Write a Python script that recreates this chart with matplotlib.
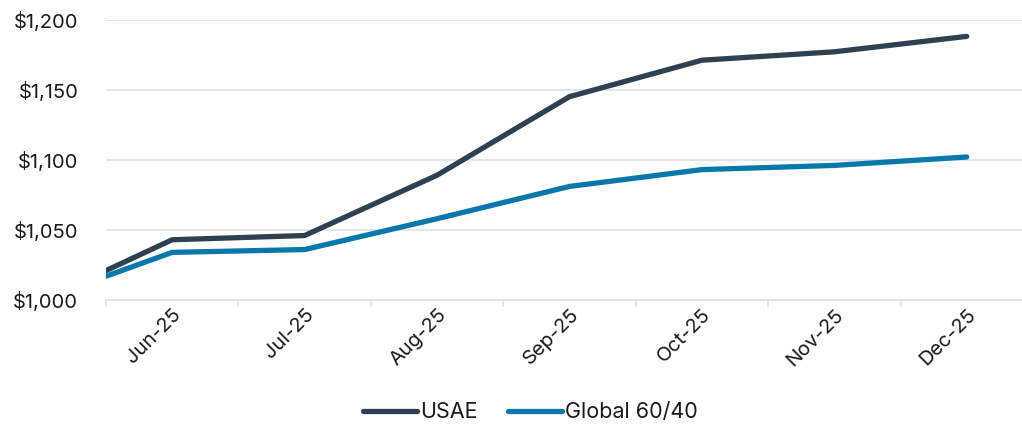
import matplotlib.pyplot as plt
from matplotlib.ticker import FuncFormatter, FixedLocator

# Данные графика
months = ['Jun-25', 'Jul-25', 'Aug-25', 'Sep-25', 'Oct-25', 'Nov-25', 'Dec-25']
usae = [1021, 1043, 1046, 1089, 1145, 1171, 1177, 1188]
global_6040 = [1017, 1034, 1036, 1058, 1081, 1093, 1096, 1102]
# первая точка - стартовое значение на левой границе оси
x_pos = [-0.5] + list(range(len(months)))

plt.rcParams['font.family'] = ['Inter', 'DejaVu Sans']

fig = plt.figure(figsize=(10.22, 4.25), dpi=100)
ax = fig.add_axes([0.1037, 0.294, 0.907, 0.66])

grid_color = '#dfe3ea'
ax.plot(x_pos, usae, color='#2f4151', lw=3.8, solid_joinstyle='round',
        solid_capstyle='round', label='USAE')
ax.plot(x_pos, global_6040, color='#0878aa', lw=3.8, solid_joinstyle='round',
        solid_capstyle='round', label='Global 60/40')

ax.set_xlim(-0.5, 6.5)
ax.set_ylim(1000, 1200)
ax.set_yticks([1000, 1050, 1100, 1150, 1200])
ax.yaxis.set_major_formatter(FuncFormatter(lambda v, p: f'${v:,.0f}'))
ax.grid(axis='y', color=grid_color, lw=1.3)
ax.set_axisbelow(True)

ax.set_xticks(range(len(months)))
ax.set_xticklabels(months, rotation=45, ha='right', rotation_mode='anchor')
ax.xaxis.set_minor_locator(FixedLocator([i - 0.5 for i in range(len(months) + 1)]))
ax.tick_params(axis='x', which='major', length=0, pad=4, labelsize=14.5,
               labelcolor='#1a1a1a')
ax.tick_params(axis='x', which='minor', length=5, color=grid_color, width=1.3)
ax.tick_params(axis='y', length=0, pad=20, labelsize=14.5, labelcolor='#1a1a1a')

for s in ['top', 'right', 'left']:
    ax.spines[s].set_visible(False)
ax.spines['bottom'].set_color(grid_color)
ax.spines['bottom'].set_linewidth(1.3)

fig.legend(loc='center', bbox_to_anchor=(0.519, 0.03), ncol=2, frameon=False,
           fontsize=15.5, handlelength=2.5, handletextpad=0.15, columnspacing=1.4,
           labelcolor='#1a1a1a')

plt.savefig('out.png', dpi=100)
